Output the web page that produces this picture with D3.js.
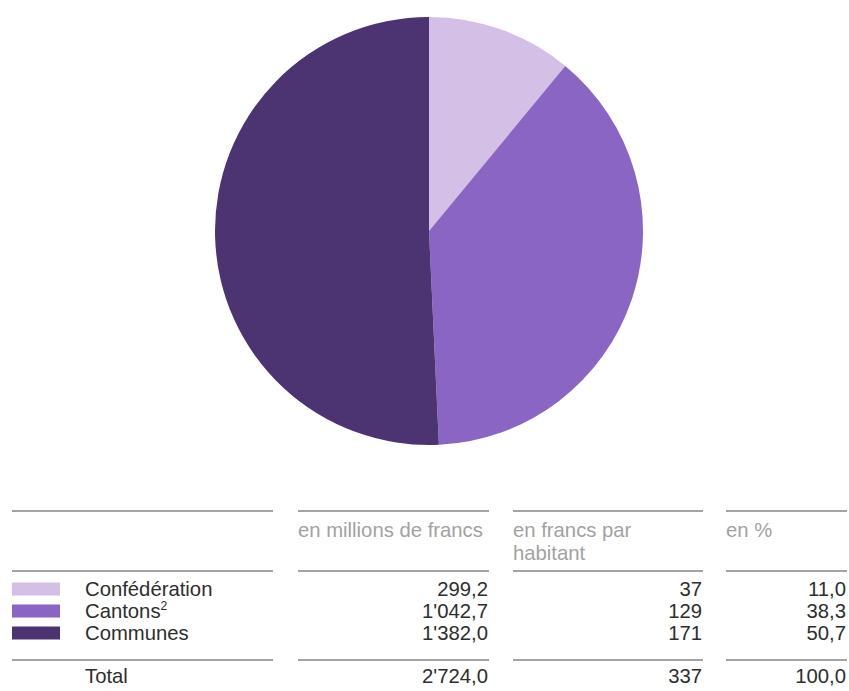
<!DOCTYPE html>
<html>
<head>
<meta charset="utf-8">
<script src="https://cdn.jsdelivr.net/npm/d3@7"></script>
<style>
  html, body { margin: 0; padding: 0; background: #fff; }
  svg { display: block; }
</style>
</head>
<body>
<script>
// ---- data ----
const categories = ["Confédération", "Cantons", "Communes"];
const superscripts = ["", "2", ""];
const millions = [299.2, 1042.7, 1382.0];
const millionsLabels = ["299,2", "1'042,7", "1'382,0"];
const perCapitaLabels = ["37", "129", "171"];
const percentLabels = ["11,0", "38,3", "50,7"];
const totalLabels = ["Total", "2'724,0", "337", "100,0"];
const headerLabels = [[], ["en millions de francs"], ["en francs par", "habitant"], ["en %"]];
const colors = ["#d4bfe7", "#8a65c4", "#4c3472"];

const W = 849, H = 691;
const svg = d3.select("body").append("svg").attr("width", W).attr("height", H);

// ---- pie ----
const cx = 429, cy = 231, r = 214;
const pie = d3.pie().sort(null).value(d => d)(millions);
const arc = d3.arc().innerRadius(0).outerRadius(r);
svg.append("g").attr("transform", `translate(${cx},${cy})`)
  .selectAll("path").data(pie).join("path")
  .attr("d", arc)
  .attr("fill", (d, i) => colors[i]);

// ---- table ----
const font = "'Liberation Sans', Arial, Helvetica, sans-serif";
const fs = 20.3;
const cols = [[12, 273], [298, 489], [513, 703], [726, 847]];
const lineYs = [511, 571, 660];
const g = svg.append("g").style("font-family", font);

lineYs.forEach(y => {
  cols.forEach(c => {
    g.append("line").attr("x1", c[0]).attr("x2", c[1]).attr("y1", y).attr("y2", y)
      .attr("stroke", "#a3a3a3").attr("stroke-width", 2);
  });
});

// headers
headerLabels.forEach((lines, ci) => {
  lines.forEach((t, li) => {
    g.append("text").attr("x", cols[ci][0]).attr("y", 537 + li * 23)
      .attr("font-size", fs).attr("fill", "#a2a2a2").text(t);
  });
});

// rows
const rowY = d3.scaleLinear().domain([0, 1]).range([589, 611]);
categories.forEach((cat, i) => {
  const yc = rowY(i);
  g.append("rect").attr("x", 12).attr("y", yc - 6.5).attr("width", 48).attr("height", 13)
    .attr("fill", colors[i]);
  const t = g.append("text").attr("x", 85).attr("y", yc + 7).attr("font-size", fs).attr("fill", "#2e2e2e");
  t.append("tspan").text(cat);
  if (superscripts[i]) {
    t.append("tspan").attr("font-size", fs * 0.6).attr("dy", -8).text(superscripts[i]);
  }
  [millionsLabels, perCapitaLabels, percentLabels].forEach((arr, k) => {
    g.append("text").attr("x", cols[k + 1][1] - 1).attr("y", yc + 7).attr("text-anchor", "end")
      .attr("font-size", fs).attr("fill", "#2e2e2e").text(arr[i]);
  });
});

// total
totalLabels.forEach((t, k) => {
  const isFirst = k === 0;
  g.append("text")
    .attr("x", isFirst ? 85 : cols[k][1] - 1)
    .attr("y", 683)
    .attr("text-anchor", isFirst ? "start" : "end")
    .attr("font-size", fs).attr("fill", "#2e2e2e").text(t);
});
</script>
</body>
</html>
